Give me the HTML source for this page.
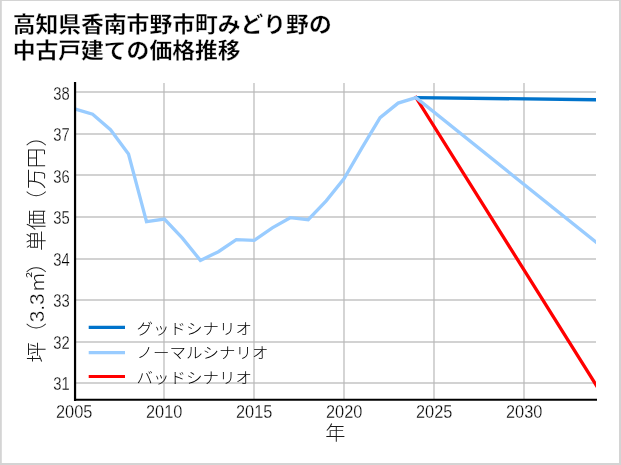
<!DOCTYPE html>
<html lang="ja">
<head>
<meta charset="utf-8">
<title>高知県香南市野市町みどり野の中古戸建ての価格推移</title>
<style>
html,body{margin:0;padding:0;background:#fff;width:621px;height:465px;overflow:hidden}
body{font-family:"Liberation Sans","Noto Sans CJK JP",sans-serif;position:relative}
</style>
</head>
<body>
<svg width="621" height="465" viewBox="0 0 621 465" style="display:block;position:absolute;left:0;top:0">
<rect x="0" y="0" width="621" height="465" fill="#fff"/>
<rect x="0" y="0" width="621" height="1" fill="#d4d4d4"/>
<rect x="0" y="0" width="1.8" height="465" fill="#d4d4d4"/>
<rect x="619" y="0" width="2" height="465" fill="#d4d4d4"/>
<rect x="0" y="463" width="621" height="2" fill="#d4d4d4"/>
<g stroke="#b8b8b8" stroke-opacity="0.63" stroke-width="1.9" fill="none">
<line x1="164.0" y1="83.0" x2="164.0" y2="400.0"/>
<line x1="254.0" y1="83.0" x2="254.0" y2="400.0"/>
<line x1="344.0" y1="83.0" x2="344.0" y2="400.0"/>
<line x1="434.0" y1="83.0" x2="434.0" y2="400.0"/>
<line x1="524.0" y1="83.0" x2="524.0" y2="400.0"/>
<line x1="74.0" y1="383" x2="596.0" y2="383"/>
<line x1="74.0" y1="342" x2="596.0" y2="342"/>
<line x1="74.0" y1="300" x2="596.0" y2="300"/>
<line x1="74.0" y1="259" x2="596.0" y2="259"/>
<line x1="74.0" y1="217" x2="596.0" y2="217"/>
<line x1="74.0" y1="175" x2="596.0" y2="175"/>
<line x1="74.0" y1="134" x2="596.0" y2="134"/>
<line x1="74.0" y1="92" x2="596.0" y2="92"/>
</g>
<defs><clipPath id="c"><rect x="74.0" y="83.0" width="522.0" height="317.0"/></clipPath></defs>
<g clip-path="url(#c)" fill="none" stroke-width="3.3" stroke-linejoin="miter" stroke-linecap="butt">
<polyline points="416.0,97.6 598.7,389.1" stroke="#ff0000" stroke-linecap="square"/>
<polyline points="416.0,97.6 598.7,99.8" stroke="#0073cb"/>
<polyline points="74.6,108.8 92.6,114.2 110.5,129.7 128.5,154.1 146.5,221.6 164.4,219.1 182.4,238.1 200.4,260.4 218.4,251.7 236.3,239.7 254.3,240.3 272.3,227.9 290.2,217.7 308.2,219.7 326.2,200.9 344.1,178.6 362.1,147.6 380.1,117.7 398.1,103.1 416.0,97.6 598.7,244.4" stroke="#99ccff"/>
</g>
<line x1="75.05" y1="82" x2="75.05" y2="401" stroke="#000" stroke-width="2.2"/>
<line x1="74" y1="399.85" x2="597" y2="399.85" stroke="#000" stroke-width="2"/>
<line x1="88.7" y1="327.4" x2="125" y2="327.4" stroke="#0073cb" stroke-width="3.2"/>
<line x1="88.7" y1="352.6" x2="125" y2="352.6" stroke="#99ccff" stroke-width="3.2"/>
<line x1="88.7" y1="376.5" x2="125" y2="376.5" stroke="#ff0000" stroke-width="3.2"/>
<g style="font-family:&quot;Liberation Sans&quot;,&quot;Noto Sans CJK JP&quot;,sans-serif;font-size:16.5px;font-weight:300" fill="#000">
<text transform="translate(136.6,333.5) scale(1,0.92)">グッドシナリオ</text>
<text transform="translate(136.6,358.2) scale(1,0.92)">ノーマルシナリオ</text>
<text transform="translate(136.6,382.6) scale(1,0.92)">バッドシナリオ</text>
</g>
<g style="font-family:&quot;Liberation Sans&quot;,&quot;Noto Sans CJK JP&quot;,sans-serif;font-size:17.6px;font-weight:300" fill="#000" stroke="#fff" stroke-width="0.28">
<text transform="translate(69.7,389.9) scale(0.84,1)" text-anchor="end">31</text>
<text transform="translate(69.7,348.5) scale(0.84,1)" text-anchor="end">32</text>
<text transform="translate(69.7,307.1) scale(0.84,1)" text-anchor="end">33</text>
<text transform="translate(69.7,265.6) scale(0.84,1)" text-anchor="end">34</text>
<text transform="translate(69.7,224.2) scale(0.84,1)" text-anchor="end">35</text>
<text transform="translate(69.7,182.8) scale(0.84,1)" text-anchor="end">36</text>
<text transform="translate(69.7,141.3) scale(0.84,1)" text-anchor="end">37</text>
<text transform="translate(69.7,99.9) scale(0.84,1)" text-anchor="end">38</text>
<text transform="translate(74.2,417.6) scale(0.93,1)" text-anchor="middle">2005</text>
<text transform="translate(164.2,417.6) scale(0.93,1)" text-anchor="middle">2010</text>
<text transform="translate(254.2,417.6) scale(0.93,1)" text-anchor="middle">2015</text>
<text transform="translate(344.2,417.6) scale(0.93,1)" text-anchor="middle">2020</text>
<text transform="translate(434.2,417.6) scale(0.93,1)" text-anchor="middle">2025</text>
<text transform="translate(524.2,417.6) scale(0.93,1)" text-anchor="middle">2030</text>
</g>
<text transform="translate(335.4,440.4) scale(0.975,0.92)" text-anchor="middle" style="font-family:&quot;Liberation Sans&quot;,&quot;Noto Sans CJK JP&quot;,sans-serif;font-size:20.7px;font-weight:300" fill="#1a1a1a">年</text>
<text transform="translate(44.0,362.6) rotate(-90)" text-anchor="start" style="font-family:&quot;Liberation Sans&quot;,&quot;Noto Sans CJK JP&quot;,sans-serif;font-size:20.7px;font-weight:300" fill="#1a1a1a">坪<tspan dx="-1.4">（</tspan><tspan dx="0.4" stroke="#fff" stroke-width="0.35" fill="#000">3.3</tspan><tspan dx="1">㎡</tspan><tspan dx="-1.5">）</tspan><tspan dx="1.5">単価</tspan><tspan dx="-1.4">（</tspan><tspan dx="1.4">万円</tspan><tspan dx="1.1">）</tspan></text>
<g style="font-family:&quot;Liberation Sans&quot;,&quot;Noto Sans CJK JP&quot;,sans-serif;font-size:22.8px;font-weight:700" fill="#000" stroke="#fff" stroke-width="0.3">
<text transform="translate(12.7,31.6) scale(1,0.93)">高知県香南市野市町みどり野の</text>
<text transform="translate(12.7,58.4) scale(1,0.93)">中古戸建ての価格推移</text>
</g>
</svg>
</body>
</html>
